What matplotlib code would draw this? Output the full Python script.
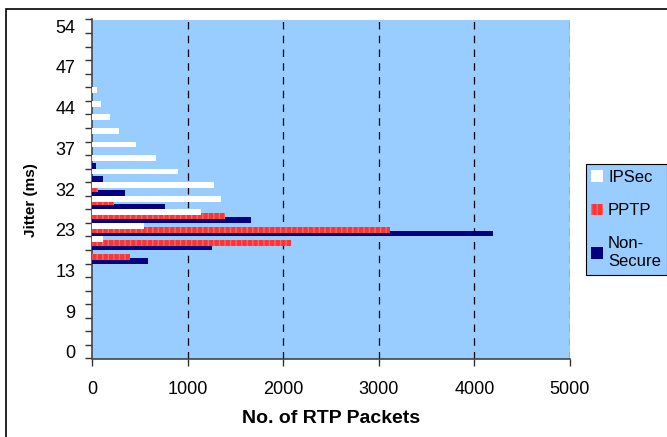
import numpy as np
import matplotlib
matplotlib.use('Agg')
import matplotlib.pyplot as plt
from matplotlib.patches import Rectangle

plt.rcParams['font.family'] = ['Liberation Sans', 'DejaVu Sans']
plt.rcParams['hatch.linewidth'] = 1.0

# Jitter categories (bottom to top), only every third one is labelled
jitter_labels = ['0', '', '', '9', '', '', '13', '', '', '23', '', '', '32',
                 '', '', '37', '', '', '44', '', '', '47', '', '', '54']

# No. of RTP packets per jitter category (bottom to top)
ipsec = [0, 0, 0, 0, 0, 0, 0, 0, 118, 540, 1140, 1346, 1276,
         903, 666, 460, 282, 192, 91, 55, 0, 0, 0, 0, 0]
pptp = [0, 0, 0, 0, 0, 0, 0, 397, 2078, 3117, 1391, 230, 59,
        0, 0, 0, 0, 0, 0, 0, 0, 0, 0, 0, 0]
non_secure = [0, 0, 0, 0, 0, 0, 0, 582, 1252, 4191, 1663, 763, 345,
              118, 42, 0, 0, 0, 0, 0, 0, 0, 0, 0, 0]

fig = plt.figure(figsize=(6.67, 4.37), dpi=100)
ax = fig.add_axes([92 / 667, 1 - 358.5 / 437, 478 / 667, 339 / 437])
ax.set_facecolor('#99CCFF')

y = np.arange(len(jitter_labels))
h = 0.43     # bar thickness
off = 0.285  # overlapping series offset

# draw bottom series first so the upper ones sit on top (Excel overlap look)
ax.barh(y - off, non_secure, h, color='#000080', label='Non-\nSecure', zorder=3)
ax.barh(y, pptp, h, color='#FF3333', edgecolor='#FF6A6A', linewidth=0,
        hatch='|||', label='PPTP', zorder=4)
ax.barh(y + off, ipsec, h, color='white', label='IPSec', zorder=5)

ax.set_xlim(0, 5000)
ax.set_ylim(-0.5, len(jitter_labels) - 0.5)
ax.set_xticks(np.arange(0, 5001, 1000))
for gx in range(1000, 5001, 1000):
    ax.axvline(gx, color='black', linestyle=(0, (6, 5)), linewidth=0.9, zorder=2)

# labels at category centres, tick marks at category boundaries
ax.set_yticks(y[::3])
ax.set_yticklabels(jitter_labels[::3])
ax.tick_params(axis='y', length=0, labelsize=13, pad=12)
ax.set_yticks(np.arange(-0.5, len(jitter_labels), 1), minor=True)
ax.tick_params(axis='y', which='minor', length=5, width=1, color='#333333')
ax.tick_params(axis='x', length=5, width=1, labelsize=13, pad=11, color='#333333')

for s in ['top', 'right']:
    ax.spines[s].set_visible(False)
for s in ['left', 'bottom']:
    ax.spines[s].set_color('#444444')
    ax.spines[s].set_linewidth(1.2)

ax.set_xlabel('No. of RTP Packets', fontsize=14, fontweight='bold', labelpad=9)
fig.text(31 / 667, 1 - 200 / 437, 'Jitter (ms)', rotation=90, fontsize=11,
         fontweight='bold', ha='center', va='center')

handles, labels = ax.get_legend_handles_labels()
order = [2, 1, 0]
leg = fig.legend([handles[i] for i in order], [labels[i] for i in order],
                 loc='upper left', bbox_to_anchor=(585.5 / 667, 1 - 164 / 437),
                 fontsize=12, frameon=True, fancybox=False, borderpad=0.35,
                 labelspacing=1.1, handlelength=0.7, handleheight=0.7,
                 handletextpad=0.3, borderaxespad=0)
leg.get_frame().set_facecolor('#99CCFF')
leg.get_frame().set_edgecolor('black')
leg.get_frame().set_linewidth(0.8)
leg.get_frame().set_alpha(1)

# outer chart border
fig.patches.append(Rectangle((6 / 667, -0.1), 1.2, 1 - 9 / 437 + 0.1,
                             transform=fig.transFigure, fill=False,
                             edgecolor='black', linewidth=1.2))

fig.savefig('out.png', dpi=100)
